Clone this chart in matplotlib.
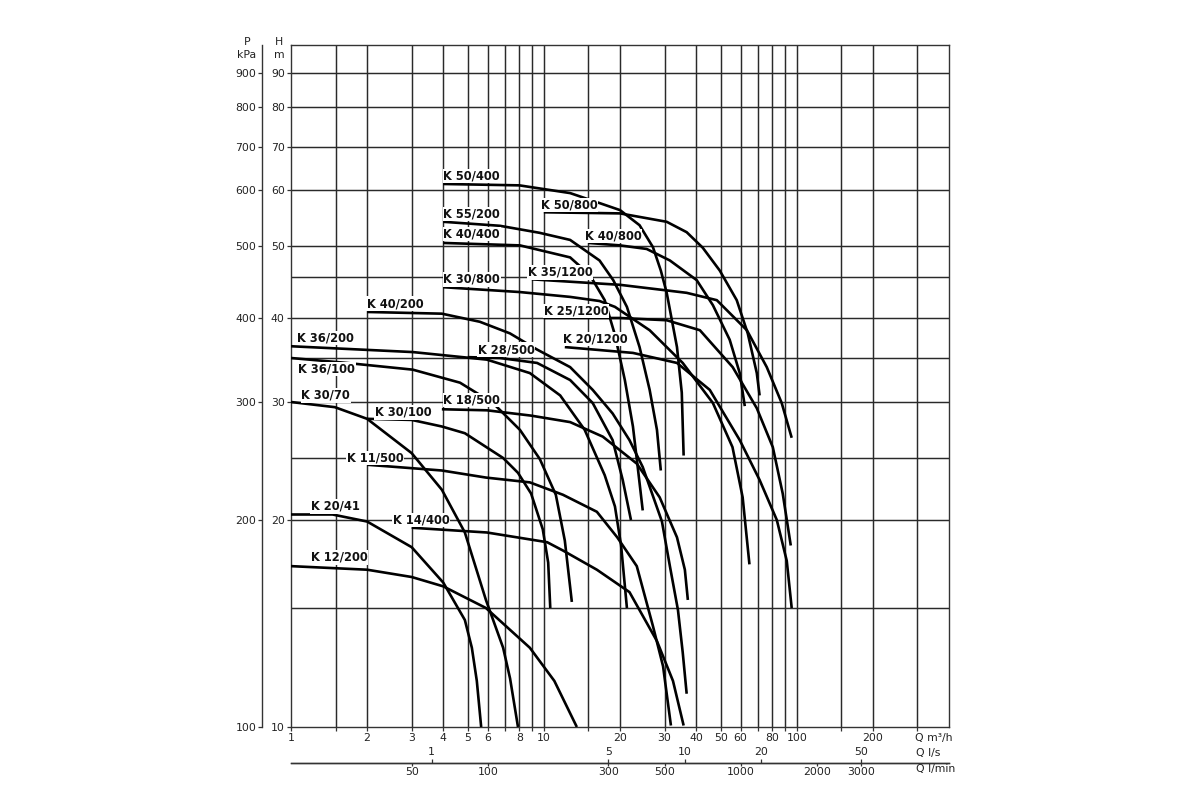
import matplotlib
matplotlib.use('Agg')
import numpy as np
import matplotlib.pyplot as plt
import matplotlib.ticker as mticker

plt.rcParams['font.family'] = ['DejaVu Sans']

# ---------------- data (Q in m3/h, H in m) ----------------
k12_200_q = [1, 2, 3, 4, 5.9, 8.8, 11.0, 13.5]
k12_200_h = [17.2, 17.0, 16.6, 16.1, 15.0, 13.1, 11.7, 10.0]

k20_41_q = [1, 1.46, 2, 3, 4, 4.87, 5.19, 5.43, 5.65]
k20_41_h = [20.4, 20.4, 19.9, 18.3, 16.3, 14.4, 13.1, 11.7, 10.0]

k30_70_q = [1, 1.49, 2, 3, 3.95, 4.87, 5.9, 6.9, 7.35, 7.9]
k30_70_h = [30.0, 29.5, 28.4, 25.4, 22.3, 19.2, 15.4, 13.1, 11.8, 10.0]

k30_100_q = [2, 3, 3.95, 4.87, 6.9, 7.9, 8.9, 9.9, 10.4, 10.6]
k30_100_h = [28.4, 28.3, 27.7, 27.1, 25.0, 23.7, 22.0, 19.4, 17.4, 15.0]

k11_500_q = [2, 3.95, 5.9, 8.8, 11.9, 16.2, 19.5, 23.3, 27.0, 29.6, 31.8]
k11_500_h = [24.4, 23.9, 23.3, 22.9, 21.9, 20.6, 18.9, 17.2, 14.1, 12.3, 10.05]

k14_400_q = [3, 5.95, 10.3, 11.9, 16.2, 21.8, 28.0, 32.4, 35.7]
k14_400_h = [19.5, 19.2, 18.6, 18.1, 17.0, 15.8, 13.4, 11.7, 10.05]

k36_100_q = [1, 1.66, 3.03, 4.66, 6.29, 8.04, 9.64, 11.15, 12.1, 12.9]
k36_100_h = [35.0, 34.4, 33.6, 32.1, 29.9, 27.4, 24.9, 21.9, 18.7, 15.3]

k36_200_q = [1, 3.03, 5.95, 8.8, 11.6, 14.5, 17.4, 19.1, 20.2, 21.3]
k36_200_h = [36.4, 35.7, 34.8, 33.2, 30.7, 27.4, 23.5, 21.0, 18.4, 15.0]

k28_500_q = [5.0, 6.7, 9.4, 12.7, 15.6, 18.7, 20.5, 22.1]
k28_500_h = [35.1, 35.0, 34.4, 32.4, 29.9, 26.5, 23.1, 20.0]

k40_200_q = [2, 3.95, 5.58, 7.34, 9.4, 12.7, 15.6, 18.7, 21.8, 24.6, 29.3, 31.5, 33.9, 35.4, 36.7]
k40_200_h = [40.7, 40.5, 39.5, 38.0, 36.0, 33.9, 31.3, 28.9, 26.5, 24.2, 19.9, 17.2, 14.9, 12.9, 11.2]

k18_500_q = [3.95, 5.95, 8.89, 12.7, 17.1, 23.3, 28.7, 33.6, 36.1, 37.1]
k18_500_h = [29.3, 29.2, 28.7, 28.1, 26.8, 24.5, 21.7, 18.9, 17.0, 15.4]

k50_400_q = [4, 8.0, 12.7, 16.6, 20, 23.9, 27.0, 29.0, 30.6, 33.6, 35.1, 35.7]
k50_400_h = [61.3, 61.0, 59.4, 57.5, 56.2, 53.5, 49.8, 46.0, 43.0, 36.3, 31.0, 25.2]

k55_200_q = [4, 6.7, 9.6, 12.7, 16.6, 18.8, 21.3, 23.9, 26.2, 28.0, 29.0]
k55_200_h = [54.1, 53.4, 52.2, 51.0, 47.6, 44.6, 41.3, 36.3, 31.3, 27.4, 23.9]

k40_400_q = [4, 8.04, 12.7, 15.2, 17.4, 19.1, 20.9, 22.5, 23.5, 24.6]
k40_400_h = [50.5, 50.1, 48.1, 45.3, 42.1, 37.8, 32.4, 27.7, 24.2, 20.7]

k50_800_q = [10, 20, 30.6, 36.7, 42.5, 49.6, 57.9, 64.0, 69.5, 71.3]
k50_800_h = [55.8, 55.6, 54.1, 52.3, 49.7, 46.0, 42.1, 38.0, 33.2, 30.7]

k40_800_q = [15, 20, 25.5, 31.5, 40.2, 46.6, 54.3, 59.5, 62.3]
k40_800_h = [50.5, 50.1, 49.5, 47.6, 44.6, 41.5, 37.2, 33.2, 29.6]

k35_1200_q = [8.97, 20, 36.7, 48.3, 63.5, 76.1, 87.2, 95.5]
k35_1200_h = [44.7, 44.0, 43.0, 42.1, 38.4, 33.9, 29.9, 26.7]

k25_1200_q = [10, 20, 30.6, 41.4, 55.8, 69.5, 80.4, 88.0, 94.7]
k25_1200_h = [40.0, 40.0, 39.7, 38.4, 33.9, 29.4, 25.9, 22.0, 18.4]

k20_1200_q = [12.1, 22.5, 33.6, 45.3, 59.5, 71.3, 83.4, 91.3, 95.5]
k20_1200_h = [36.3, 35.6, 34.4, 31.3, 26.5, 23.1, 20.0, 17.5, 15.0]

k30_800_q = [4, 8.0, 12.7, 16.6, 19.1, 26.2, 35.4, 46.6, 55.7, 61.1, 65.0]
k30_800_h = [43.7, 43.1, 42.5, 42.0, 41.3, 38.4, 34.4, 29.9, 25.9, 21.7, 17.3]

# labels (text, anchor Q, anchor H)
label_text = ["K 50/400", "K 55/200", "K 40/400", "K 50/800", "K 40/800",
              "K 30/800", "K 35/1200", "K 40/200", "K 25/1200", "K 36/200",
              "K 20/1200", "K 28/500", "K 36/100", "K 30/70", "K 18/500",
              "K 30/100", "K 11/500", "K 20/41", "K 14/400", "K 12/200"]
label_q = [4.0, 4.0, 4.0, 9.7, 14.5, 4.0, 8.65, 2.0, 10.0, 1.06,
           11.9, 5.48, 1.07, 1.1, 4.0, 2.15, 1.66, 1.2, 2.53, 1.2]
label_h = [63.1, 55.5, 52.0, 57.1, 51.7, 44.7, 45.7, 41.7, 40.8, 37.4,
           37.3, 36.0, 33.7, 30.7, 30.2, 29.0, 25.0, 21.0, 20.0, 17.7]

# axis ticks / grid
q_grid = [1.5, 2, 3, 4, 5, 6, 7, 8, 9, 10, 15, 20, 30, 40, 50, 60, 70, 80, 90,
          100, 150, 200, 300]
h_grid = [15, 20, 25, 30, 35, 40, 45, 50, 60, 70, 80, 90]
q_ticks = [1, 1.5, 2, 3, 4, 5, 6, 7, 8, 9, 10, 15, 20, 30, 40, 50, 60, 70, 80,
           90, 100, 150, 200, 300]
q_ticklabels = ["1", "", "2", "3", "4", "5", "6", "", "8", "", "10", "", "20",
                "30", "40", "50", "60", "", "80", "", "100", "", "200", ""]
h_ticks = [10, 20, 30, 40, 50, 60, 70, 80, 90]
p_ticks = [100, 200, 300, 400, 500, 600, 700, 800, 900]
ls_ticks = [1, 5, 10, 20, 50]
lmin_ticks = [50, 100, 300, 500, 1000, 2000, 3000]

# head-axis graduation of the printed chart (value -> relative position)
scale_h = [10, 15, 20, 25, 30, 35, 40, 45, 50, 60, 70, 80, 90, 100]
scale_pos = [0, 119, 207, 269, 325, 369, 409, 450, 481, 537, 580.3, 620, 654, 682]

curves = [
    (k12_200_q, k12_200_h), (k20_41_q, k20_41_h), (k30_70_q, k30_70_h),
    (k30_100_q, k30_100_h), (k11_500_q, k11_500_h), (k14_400_q, k14_400_h),
    (k36_100_q, k36_100_h), (k36_200_q, k36_200_h), (k28_500_q, k28_500_h),
    (k40_200_q, k40_200_h), (k18_500_q, k18_500_h), (k50_400_q, k50_400_h),
    (k55_200_q, k55_200_h), (k40_400_q, k40_400_h), (k50_800_q, k50_800_h),
    (k40_800_q, k40_800_h), (k35_1200_q, k35_1200_h), (k25_1200_q, k25_1200_h),
    (k20_1200_q, k20_1200_h), (k30_800_q, k30_800_h),
]

_lh = np.log10(np.array(scale_h, dtype=float))
_ps = np.array(scale_pos, dtype=float)


def _interp_ext(x, xp, fp):
    x = np.asarray(x, dtype=float)
    y = np.interp(x, xp, fp)
    lo = x < xp[0]
    hi = x > xp[-1]
    s0 = (fp[1] - fp[0]) / (xp[1] - xp[0])
    s1 = (fp[-1] - fp[-2]) / (xp[-1] - xp[-2])
    y = np.where(lo, fp[0] + (x - xp[0]) * s0, y)
    y = np.where(hi, fp[-1] + (x - xp[-1]) * s1, y)
    return y


def h_fwd(h):
    h = np.clip(np.asarray(h, dtype=float), 1e-3, None)
    return _interp_ext(np.log10(h), _lh, _ps)


def h_inv(p):
    return 10 ** _interp_ext(p, _ps, _lh)


def p_fwd(p):
    return h_fwd(np.asarray(p, dtype=float) / 10.0)


def p_inv(t):
    return h_inv(t) * 10.0


# ---------------- figure ----------------
W, H = 1200, 800
fig = plt.figure(figsize=(W / 100, H / 100), dpi=100)
ax_rect = [291 / W, 1 - 727 / H, 658 / W, 682 / H]
ax = fig.add_axes(ax_rect)
ax.set_xscale('log')
ax.set_yscale('function', functions=(h_fwd, h_inv))
ax.set_xlim(1, 400)
ax.set_ylim(10, 100)

grid_col = '#2a2a2a'
for q in q_grid:
    ax.axvline(q, color=grid_col, lw=1.05, zorder=1)
for h in h_grid:
    ax.axhline(h, color=grid_col, lw=1.05, zorder=1)

for q, h in curves:
    ax.plot(q, h, color='black', lw=1.9, solid_capstyle='butt',
            solid_joinstyle='round', zorder=3)

for s, q, h in zip(label_text, label_q, label_h):
    ax.text(q, h, s, fontsize=8.3, fontweight='bold', ha='left', va='center',
            color='#111111', zorder=5,
            bbox=dict(facecolor='white', edgecolor='none', pad=0.5))

for sp in ax.spines.values():
    sp.set_color('#333333')
    sp.set_linewidth(1.0)

tick_col = '#333333'
lab_col = '#222222'
fs = 7.8
ax.xaxis.set_major_locator(mticker.FixedLocator(q_ticks))
ax.xaxis.set_major_formatter(mticker.FixedFormatter(q_ticklabels))
ax.xaxis.set_minor_locator(mticker.NullLocator())
ax.yaxis.set_major_locator(mticker.FixedLocator(h_ticks))
ax.yaxis.set_major_formatter(mticker.FixedFormatter([str(v) for v in h_ticks]))
ax.yaxis.set_minor_locator(mticker.NullLocator())
ax.tick_params(axis='both', which='major', length=3, width=0.9,
               color=tick_col, labelsize=fs, labelcolor=lab_col, pad=1.5)

# kPa axis on the left (own thin axes with the same graduation)
ax_p = fig.add_axes([262 / W, ax_rect[1], 0.0001, ax_rect[3]])
ax_p.set_yscale('function', functions=(p_fwd, p_inv))
ax_p.set_ylim(100, 1000)
ax_p.set_xticks([])
ax_p.patch.set_visible(False)
for k in ('top', 'bottom', 'right'):
    ax_p.spines[k].set_visible(False)
ax_p.spines['left'].set_color('#333333')
ax_p.spines['left'].set_linewidth(1.0)
ax_p.yaxis.set_major_locator(mticker.FixedLocator(p_ticks))
ax_p.yaxis.set_major_formatter(mticker.FixedFormatter([str(v) for v in p_ticks]))
ax_p.yaxis.set_minor_locator(mticker.NullLocator())
ax_p.tick_params(axis='y', which='major', length=3, width=0.9, color=tick_col,
                 labelsize=fs, labelcolor=lab_col, pad=1)

# l/s and l/min axes at the bottom
loc = -36 / 682
sec_ls = ax.secondary_xaxis(loc, functions=(lambda q: q / 3.6, lambda s: s * 3.6))
sec_ls.xaxis.set_major_locator(mticker.FixedLocator(ls_ticks))
sec_ls.xaxis.set_major_formatter(mticker.FixedFormatter([str(v) for v in ls_ticks]))
sec_ls.xaxis.set_minor_locator(mticker.NullLocator())
sec_ls.xaxis.set_ticks_position('top')
sec_ls.tick_params(axis='x', which='major', top=True, bottom=False,
                   labeltop=True, labelbottom=False, length=3, width=0.9,
                   color=tick_col, labelsize=fs, labelcolor=lab_col, pad=1)

sec_lm = ax.secondary_xaxis(loc, functions=(lambda q: q * 1000 / 60,
                                              lambda l: l * 60 / 1000))
sec_lm.xaxis.set_major_locator(mticker.FixedLocator(lmin_ticks))
sec_lm.xaxis.set_major_formatter(mticker.FixedFormatter([str(v) for v in lmin_ticks]))
sec_lm.xaxis.set_minor_locator(mticker.NullLocator())
sec_lm.tick_params(axis='x', which='major', length=2.5, width=0.9,
                   color=tick_col, labelsize=fs, labelcolor=lab_col, pad=0.5)
for s in (sec_ls, sec_lm):
    for sp in s.spines.values():
        sp.set_color('#333333')
        sp.set_linewidth(1.0)


# axis titles
def ftxt(x, y, s, **kw):
    fig.text(x / W, 1 - y / H, s, fontsize=fs, color=lab_col, va='center', **kw)


ftxt(279, 42, "H", ha='center')
ftxt(279, 55, "m", ha='center')
ftxt(247, 42, "P", ha='center')
ftxt(247, 55, "kPa", ha='center')
ftxt(915, 738, "Q m³/h", ha='left')
ftxt(916, 753, "Q l/s", ha='left')
ftxt(916, 769, "Q l/min", ha='left')

fig.savefig('out.png', dpi=100, facecolor='white')
